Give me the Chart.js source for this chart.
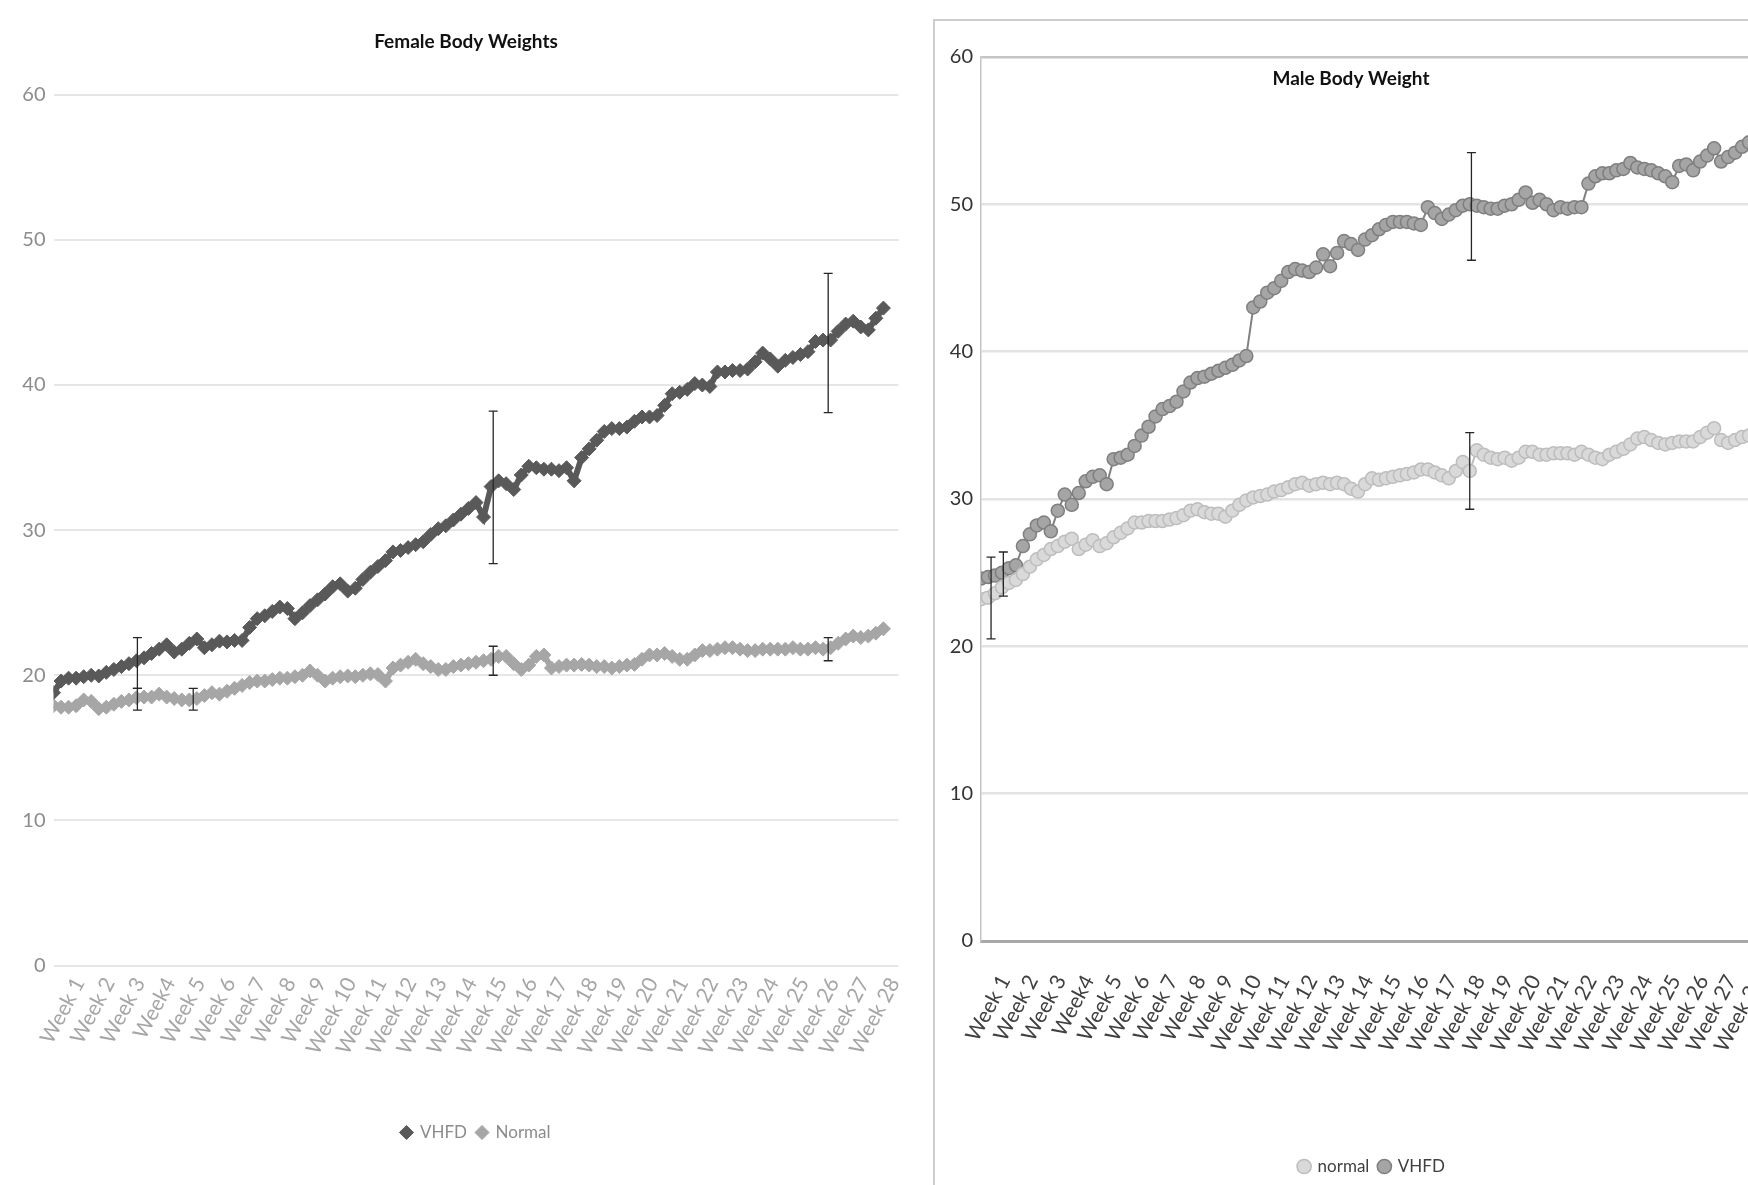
<!DOCTYPE html>
<html>
<head>
<meta charset="utf-8">
<script src="https://cdn.jsdelivr.net/npm/chart.js@4.4.1/dist/chart.umd.min.js"></script>
<style>
  html, body { margin: 0; padding: 0; width: 1748px; height: 1185px; overflow: hidden; background: #ffffff; }
  #leftChart { position: absolute; left: 0; top: 0; }
  #rightFrame { position: absolute; left: 933px; top: 19px; width: 920px; height: 1220px;
                border-left: 2px solid #cdcdcd; border-top: 2px solid #cdcdcd; }
  #rightChart { position: absolute; left: 935px; top: 21px; }
</style>
</head>
<body>
<canvas id="leftChart" width="932" height="1185"></canvas>
<div id="rightFrame"></div>
<canvas id="rightChart" width="880" height="1190"></canvas>
<script>
// ---------------- data ----------------
// tick labels (one per week)
const weekLabels = ['Week 1','Week 2','Week 3','Week4','Week 5','Week 6','Week 7','Week 8','Week 9','Week 10',
  'Week 11','Week 12','Week 13','Week 14','Week 15','Week 16','Week 17','Week 18','Week 19','Week 20',
  'Week 21','Week 22','Week 23','Week 24','Week 25','Week 26','Week 27','Week 28'];

// measurements are sampled every quarter week (4 readings per week), starting at week 0
const samplesPerWeek = 4;

// Female body weights (g)
const femaleVHFD = [
  18.8, 19.6, 19.8, 19.8,   19.9, 20.0, 19.95, 20.2,  20.4, 20.6, 20.8, 21.0,  21.2, 21.5, 21.8, 22.1,
  21.6, 21.8, 22.2, 22.5,   21.9, 22.1, 22.35, 22.3,  22.4, 22.4, 23.3, 23.9,  24.1, 24.4, 24.7, 24.6,
  23.9, 24.3, 24.8, 25.2,   25.6, 26.1, 26.3, 25.8,   26.0, 26.6, 27.1, 27.5,  27.9, 28.5, 28.6, 28.8,
  29.0, 29.2, 29.7, 30.1,   30.3, 30.7, 31.1, 31.5,   31.9, 30.9, 33.0, 33.4,  33.2, 32.8, 33.8, 34.4,
  34.3, 34.2, 34.2, 34.1,   34.3, 33.4, 35.0, 35.6,   36.2, 36.8, 37.0, 37.0,  37.1, 37.5, 37.8, 37.8,
  37.9, 38.6, 39.4, 39.5,   39.7, 40.1, 40.0, 39.9,   40.9, 40.9, 41.0, 41.0,  41.1, 41.6, 42.2, 41.8,
  41.3, 41.7, 41.9, 42.1,   42.3, 43.0, 43.1, 43.1,   43.7, 44.2, 44.4, 44.0,  43.8, 44.6, 45.3
];
const femaleNormal = [
  17.9, 17.8, 17.8, 17.9,   18.3, 18.2, 17.7, 17.8,   18.0, 18.2, 18.3, 18.45, 18.5, 18.5, 18.7, 18.5,
  18.4, 18.3, 18.3, 18.4,   18.6, 18.8, 18.7, 18.9,   19.1, 19.3, 19.5, 19.6,  19.6, 19.7, 19.8, 19.8,
  19.9, 20.0, 20.3, 20.0,   19.6, 19.8, 19.9, 19.95,  19.9, 20.0, 20.1, 20.05, 19.6, 20.5, 20.7, 20.9,
  21.1, 20.8, 20.6, 20.4,   20.4, 20.6, 20.7, 20.8,   20.9, 21.0, 21.1, 21.3,  21.3, 20.8, 20.4, 20.7,
  21.3, 21.4, 20.5, 20.6,   20.7, 20.7, 20.75, 20.7,  20.6, 20.6, 20.5, 20.6,  20.7, 20.75, 21.1, 21.4,
  21.4, 21.5, 21.3, 21.1,   21.1, 21.4, 21.7, 21.7,   21.8, 21.9, 21.9, 21.8,  21.7, 21.7, 21.8, 21.8,
  21.8, 21.8, 21.9, 21.8,   21.8, 21.9, 21.8, 21.9,   22.2, 22.5, 22.7, 22.6,  22.7, 22.9, 23.2
];
// error bars: week position, low and high value
const femaleVHFDErr = [ {x: 2.78, lo: 19.1, hi: 22.6}, {x: 14.57, lo: 27.7, hi: 38.2}, {x: 25.67, lo: 38.1, hi: 47.7} ];
const femaleNormalErr = [ {x: 2.78, lo: 17.6, hi: 19.1}, {x: 4.63, lo: 17.6, hi: 19.1}, {x: 14.57, lo: 20.0, hi: 22.0}, {x: 25.67, lo: 21.0, hi: 22.6} ];

// Male body weights (g)
const maleNormal = [
  23.2, 23.3, 23.6, 24.0,   24.3, 24.5, 24.9, 25.4,   25.9, 26.2, 26.6, 26.8,  27.1, 27.3, 26.6, 26.9,
  27.2, 26.8, 27.0, 27.4,   27.7, 28.0, 28.4, 28.4,   28.5, 28.5, 28.5, 28.6,  28.7, 28.9, 29.2, 29.3,
  29.1, 29.0, 29.0, 28.8,   29.2, 29.6, 29.9, 30.1,   30.2, 30.3, 30.5, 30.6,  30.8, 31.0, 31.1, 30.9,
  31.0, 31.1, 31.0, 31.1,   31.0, 30.7, 30.5, 31.0,   31.4, 31.3, 31.4, 31.5,  31.6, 31.7, 31.8, 32.0,
  32.0, 31.8, 31.6, 31.4,   31.9, 32.5, 31.9, 33.3,   33.0, 32.8, 32.7, 32.8,  32.6, 32.8, 33.2, 33.2,
  33.0, 33.0, 33.1, 33.1,   33.1, 33.0, 33.2, 33.0,   32.8, 32.7, 33.0, 33.2,  33.4, 33.7, 34.1, 34.2,
  34.0, 33.8, 33.7, 33.8,   33.9, 33.9, 33.9, 34.2,   34.5, 34.8, 34.0, 33.8,  34.0, 34.2, 34.3
];
const maleVHFD = [
  24.6, 24.7, 24.8, 25.0,   25.3, 25.5, 26.8, 27.6,   28.2, 28.4, 27.8, 29.2,  30.3, 29.6, 30.4, 31.2,
  31.5, 31.6, 31.0, 32.7,   32.8, 33.0, 33.6, 34.3,   34.9, 35.6, 36.1, 36.3,  36.6, 37.3, 37.9, 38.2,
  38.3, 38.5, 38.7, 38.9,   39.1, 39.4, 39.7, 43.0,   43.4, 44.0, 44.3, 44.8,  45.4, 45.6, 45.5, 45.4,
  45.7, 46.6, 45.8, 46.7,   47.5, 47.3, 46.9, 47.6,   47.9, 48.3, 48.6, 48.8,  48.8, 48.8, 48.7, 48.6,
  49.8, 49.4, 49.0, 49.3,   49.6, 49.9, 50.0, 49.9,   49.8, 49.7, 49.7, 49.9,  50.0, 50.3, 50.8, 50.1,
  50.3, 50.0, 49.6, 49.8,   49.7, 49.8, 49.8, 51.4,   51.9, 52.1, 52.1, 52.3,  52.4, 52.8, 52.5, 52.4,
  52.3, 52.1, 51.9, 51.5,   52.6, 52.7, 52.3, 52.9,   53.3, 53.8, 52.9, 53.2,  53.5, 53.9, 54.2
];
const maleNormalErr = [ {x: 0.36, lo: 20.5, hi: 26.05}, {x: 17.5, lo: 29.3, hi: 34.5} ];
const maleVHFDErr = [ {x: 0.8, lo: 23.4, hi: 26.4}, {x: 17.56, lo: 46.2, hi: 53.5} ];

const yTicks = [0, 10, 20, 30, 40, 50, 60];

// ---------------- helpers ----------------
const toPoints = arr => arr.map((v, i) => ({ x: i / samplesPerWeek, y: v }));
const weekTickPos = weekLabels.map((_, i) => i + 6 / 7);   // label sits on the last day of each week
const FONT = 'Lato, "Liberation Sans Narrow", "DejaVu Sans Condensed", sans-serif';

const errorBarPlugin = {
  id: 'errorBars',
  afterDatasetsDraw(chart, args, o) {
    const { ctx, scales } = chart;
    ctx.save();
    ctx.strokeStyle = o.color;
    ctx.lineWidth = o.width;
    chart.data.datasets.forEach((ds, i) => {
      if (!ds.errorBars || !chart.isDatasetVisible(i)) return;
      ds.errorBars.forEach(e => {
        const px = scales.x.getPixelForValue(e.x);
        const top = scales.y.getPixelForValue(e.hi);
        const bot = scales.y.getPixelForValue(e.lo);
        ctx.beginPath();
        ctx.moveTo(px, top); ctx.lineTo(px, bot);
        ctx.moveTo(px - o.cap, top); ctx.lineTo(px + o.cap, top);
        ctx.moveTo(px - o.cap, bot); ctx.lineTo(px + o.cap, bot);
        ctx.stroke();
      });
    });
    ctx.restore();
  }
};

// chart title placed relative to the plot area
const placedTitlePlugin = {
  id: 'placedTitle',
  afterDraw(chart, args, o) {
    if (!o.text) return;
    const ctx = chart.ctx;
    ctx.save();
    ctx.font = `bold ${o.size}px ${FONT}`;
    ctx.fillStyle = o.color;
    ctx.textAlign = 'center';
    ctx.textBaseline = 'middle';
    ctx.fillText(o.text, chart.chartArea.left + o.dx, chart.chartArea.top + o.dy);
    ctx.restore();
  }
};

Chart.defaults.font.family = FONT;
const byDataset = (a, b) => a.datasetIndex - b.datasetIndex;

// ---------------- Female chart ----------------
new Chart(document.getElementById('leftChart'), {
  type: 'line',
  data: {
    datasets: [
      { label: 'VHFD', data: toPoints(femaleVHFD), errorBars: femaleVHFDErr,
        borderColor: '#595959', backgroundColor: '#595959', borderWidth: 6,
        pointStyle: 'rectRot', pointRadius: 7, pointBackgroundColor: '#595959', pointBorderColor: '#595959',
        pointBorderWidth: 1, tension: 0, order: 2 },
      { label: 'Normal', data: toPoints(femaleNormal), errorBars: femaleNormalErr,
        borderColor: '#a6a6a6', backgroundColor: '#a6a6a6', borderWidth: 6,
        pointStyle: 'rectRot', pointRadius: 7, pointBackgroundColor: '#a6a6a6', pointBorderColor: '#a6a6a6',
        pointBorderWidth: 1, tension: 0, order: 1 }
    ]
  },
  options: {
    responsive: false, animation: false, devicePixelRatio: 1,
    layout: { padding: { left: 0, right: 33.5, top: 94.8, bottom: 34 } },
    plugins: {
      title: { display: false },
      placedTitle: { text: 'Female Body Weights', dx: 412.5, dy: -52.8, size: 19, color: '#111111' },
      legend: { position: 'bottom', fullSize: false,
                labels: { usePointStyle: true, boxWidth: 10, boxHeight: 10, padding: 10, sort: byDataset,
                          color: '#8c8c8c', font: { size: 17 } } },
      tooltip: { enabled: false },
      errorBars: { color: '#262626', width: 1.3, cap: 4.5 }
    },
    scales: {
      x: { type: 'linear', min: 0, max: 28,
           afterBuildTicks: s => { s.ticks = weekTickPos.map(v => ({ value: v })); },
           afterFit: s => { s.height = 148.5; },
           ticks: { autoSkip: false, minRotation: 62, maxRotation: 62, padding: 0,
                    color: '#a6a6a6', font: { size: 21 },
                    callback: (v, i) => weekLabels[i] },
           grid: { display: false }, border: { display: false } },
      y: { min: 0, max: 60,
           afterBuildTicks: s => { s.ticks = yTicks.map(v => ({ value: v })); },
           afterFit: s => { s.width = 53.5; },
           ticks: { color: '#8c8c8c', font: { size: 20 }, padding: 8 },
           grid: { color: '#e6e6e6', lineWidth: 2, drawTicks: false },
           border: { display: false } }
    }
  },
  plugins: [errorBarPlugin, placedTitlePlugin]
});

// ---------------- Male chart ----------------
new Chart(document.getElementById('rightChart'), {
  type: 'line',
  data: {
    datasets: [
      { label: 'normal', data: toPoints(maleNormal), errorBars: maleNormalErr,
        borderColor: '#bfbfbf', backgroundColor: '#d9d9d9', borderWidth: 2,
        pointStyle: 'circle', pointRadius: 6.5, pointBackgroundColor: '#d9d9d9', pointBorderColor: '#bdbdbd',
        pointBorderWidth: 1.5, tension: 0, order: 1 },
      { label: 'VHFD', data: toPoints(maleVHFD), errorBars: maleVHFDErr,
        borderColor: '#808080', backgroundColor: '#a5a5a5', borderWidth: 2,
        pointStyle: 'circle', pointRadius: 6.5, pointBackgroundColor: '#a5a5a5', pointBorderColor: '#7f7f7f',
        pointBorderWidth: 1.5, tension: 0, order: 2 }
    ]
  },
  options: {
    responsive: false, animation: false, devicePixelRatio: 1,
    layout: { padding: { left: 0, right: 52, top: 35.9, bottom: 26 } },
    plugins: {
      title: { display: false },
      legend: { position: 'bottom', fullSize: false,
                labels: { usePointStyle: true, boxWidth: 10, boxHeight: 10, padding: 10, sort: byDataset,
                          color: '#404040', font: { size: 17 } } },
      tooltip: { enabled: false },
      errorBars: { color: '#262626', width: 1.3, cap: 4.5 },
      placedTitle: { text: 'Male Body Weight', dx: 370, dy: 22, size: 19, color: '#111111' }
    },
    scales: {
      x: { type: 'linear', min: 0, max: 28,
           afterBuildTicks: s => { s.ticks = weekTickPos.map(v => ({ value: v })); },
           afterFit: s => { s.height = 207; },
           ticks: { autoSkip: false, minRotation: 62, maxRotation: 62, padding: 22,
                    color: '#404040', font: { size: 21 },
                    callback: (v, i) => weekLabels[i] },
           grid: { display: false },
           border: { display: true, color: '#a8a8a8', width: 3 } },
      y: { min: 0, max: 60,
           afterBuildTicks: s => { s.ticks = yTicks.map(v => ({ value: v })); },
           afterFit: s => { s.width = 46; },
           ticks: { color: '#333333', font: { size: 20 }, padding: 8 },
           grid: { color: ctx => (ctx.tick && ctx.tick.value === 60 ? '#c4c4c4' : '#e3e3e3'), lineWidth: 2.5, drawTicks: false },
           border: { display: true, color: '#c4c4c4', width: 1.5 } }
    }
  },
  plugins: [errorBarPlugin, placedTitlePlugin]
});
</script>
</body>
</html>
